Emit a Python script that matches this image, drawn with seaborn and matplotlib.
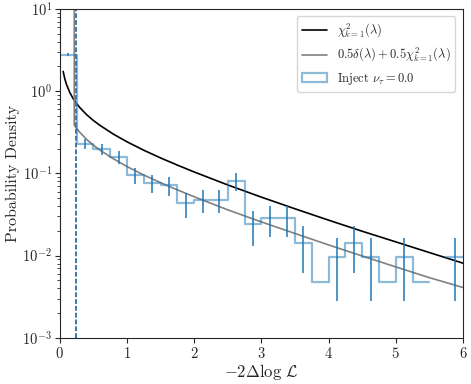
import numpy as np
import pandas as pd
import matplotlib
matplotlib.use("Agg")
import matplotlib.pyplot as plt
from matplotlib.lines import Line2D
from matplotlib.patches import Patch
import seaborn as sns

# Histogram of injected nu_tau = 0.0 (counts per 0.25 bin)
bin_width = 0.25
bin_range = (0, 6)
counts = [575, 48, 41, 33, 20, 16, 15, 9, 10, 10, 17, 5, 6, 6, 3, 1, 2, 3, 2, 1, 2, 1, 0, 2]
density_per_event = 0.0048

# chi2 k=1 curve
chi2_x = [0.05, 0.075, 0.1, 0.15, 0.2, 0.24, 0.3, 0.4, 0.5, 0.6, 0.8, 1.0, 1.25, 1.5,
          1.75, 2.0, 2.5, 3.0, 3.5, 4.0, 4.5, 5.0, 5.5, 6.0]
chi2_y = [1.735, 1.403, 1.200, 0.956, 0.807, 0.722, 0.627, 0.516, 0.439, 0.382, 0.299,
          0.242, 0.191, 0.154, 0.126, 0.104, 0.0723, 0.0514, 0.0371, 0.0270, 0.0198,
          0.0147, 0.0109, 0.0081]

# 0.5 delta + 0.5 chi2 curve (spike near threshold, then half chi2)
mix_x = [0.215, 0.215, 0.24, 0.3, 0.4, 0.5, 0.6, 0.8, 1.0, 1.25, 1.5, 1.75, 2.0, 2.5, 3.0,
         3.5, 4.0, 4.5, 5.0, 5.5, 6.0]
mix_y = [100, 0.385, 0.361, 0.314, 0.258, 0.220, 0.191, 0.150, 0.121, 0.0955, 0.077, 0.063,
         0.052, 0.036, 0.0257, 0.0186, 0.0135, 0.0099, 0.0073, 0.0054, 0.0041]

threshold = 0.235

sns.set_style("ticks")
plt.rcParams["font.family"] = "serif"
plt.rcParams["font.serif"] = ["cmr10", "DejaVu Serif"]
plt.rcParams["mathtext.fontset"] = "cm"
plt.rcParams["axes.formatter.use_mathtext"] = True
plt.rcParams["axes.unicode_minus"] = True

counts = np.array(counts)
edges = np.arange(bin_range[0], bin_range[1] + bin_width / 2, bin_width)
centers = 0.5 * (edges[:-1] + edges[1:])
dens = counts * density_per_event
errs = np.sqrt(counts) * density_per_event
hist_df = pd.DataFrame({"x": centers, "w": dens})

fig, ax = plt.subplots(figsize=(4.71, 3.84), dpi=100)
fig.subplots_adjust(left=0.127, right=0.983, top=0.977, bottom=0.12)
ax.set_yscale("log", nonpositive="mask")

sns.lineplot(x=chi2_x, y=chi2_y, color="k", lw=1.2, ax=ax, sort=False, estimator=None)
sns.lineplot(x=mix_x, y=mix_y, color="gray", lw=1.2, ax=ax, sort=False, estimator=None)
sns.histplot(data=hist_df, x="x", weights="w", binwidth=bin_width, binrange=bin_range,
             element="step", fill=False, color="C0", alpha=0.5, lw=1.6, ax=ax)
ax.errorbar(centers, dens, yerr=errs, fmt="none", ecolor="C0", elinewidth=1.1)
ax.axvline(threshold, color="#3d78b0", ls=(0, (2.5, 1)), lw=1.4)

ax.set_xlim(0, 6)
ax.set_ylim(1e-3, 10)
ax.set_xlabel(r"$-2\Delta\log\,\mathcal{L}$", fontsize=12, labelpad=1)
ax.set_ylabel("Probability Density", fontsize=11.5, labelpad=2)
ax.tick_params(labelsize=10.5, pad=2)
for s in ax.spines.values():
    s.set_visible(True)

handles = [Line2D([], [], color="k", lw=1.2),
           Line2D([], [], color="gray", lw=1.2),
           Patch(facecolor="none", edgecolor="C0", alpha=0.5, lw=1.6)]
labels = [r"$\chi^2_{k=1}(\lambda)$",
          r"$0.5\delta(\lambda) + 0.5\chi^2_{k=1}(\lambda)$",
          r"Inject $\nu_\tau = 0.0$"]
ax.legend(handles, labels, loc="upper right", fontsize=9, handlelength=2.0,
          borderaxespad=0.6)

plt.savefig("out.png", dpi=100)
